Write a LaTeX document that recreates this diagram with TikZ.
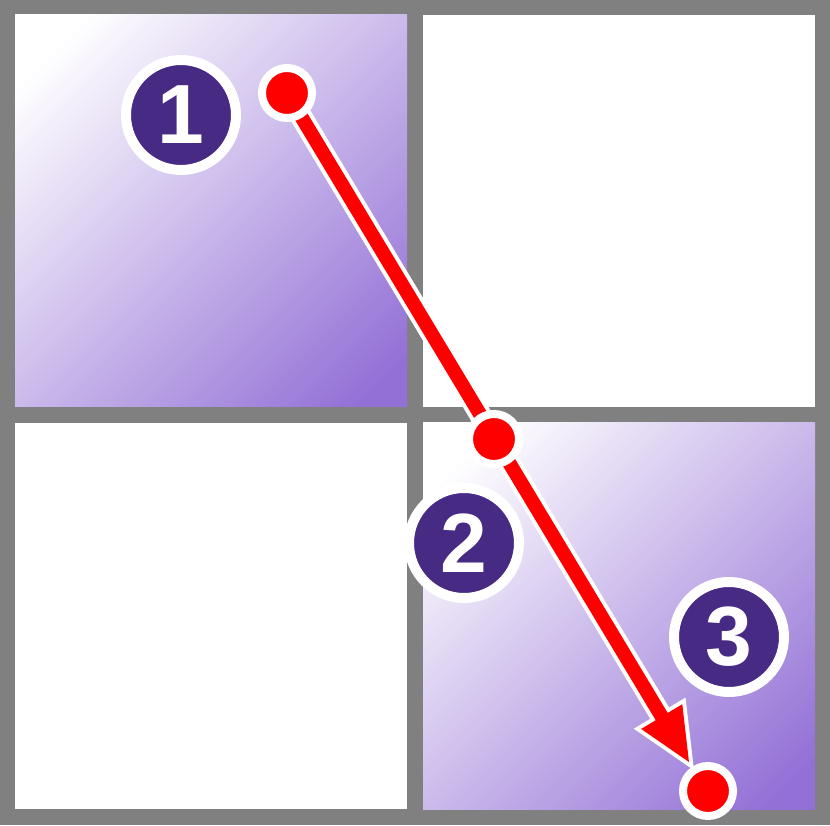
\documentclass[tikz,border=0pt]{standalone}
\usepackage{fontspec}
\setmainfont{Liberation Sans}
\usetikzlibrary{calc,shadings}
\definecolor{bggray}{HTML}{808080}
\definecolor{mpurple}{HTML}{9370D6}
\definecolor{badgepurple}{HTML}{472A83}
\definecolor{dotred}{HTML}{FF0000}
\pgfdeclarehorizontalshading{panelgrad}{100bp}{color(0bp)=(white); color(21bp)=(white); color(81bp)=(mpurple); color(100bp)=(mpurple)}
\begin{document}
\begin{tikzpicture}[x=1pt,y=1pt,
  gradpanel/.style={shading=panelgrad, shading angle=-45},
  dot/.style={circle, fill=dotred, draw=white, line width=8pt, minimum size=50pt, inner sep=0pt},
  badge/.style={circle, fill=badgepurple, draw=white, line width=10pt, minimum size=110pt, inner sep=0pt,
    text=white, font=\fontsize{84}{84}\selectfont\bfseries}
]
\useasboundingbox (0,0) rectangle (830,825);
\fill[bggray] (0,0) rectangle (830,825);
% panels
\shade[gradpanel] (15,418) rectangle (407,810);
\fill[white] (423,418) rectangle (815,810);
\fill[white] (15,16) rectangle (407,402);
\shade[gradpanel] (423,16) rectangle (815,402);
% badges
\node[badge] (b1) at (181,710) {1};
\node[badge] (b2) at (464,282) {2};
\node[badge] (b3) at (729,188) {3};
% arrow
\coordinate (p1) at (287,732);
\coordinate (tip) at (689,63);
\coordinate (hb) at ($(tip)!53pt!(p1)$);
\coordinate (c1) at ($(hb)!24pt!90:(tip)$);
\coordinate (c2) at ($(hb)!24pt!-90:(tip)$);
\draw[white, line width=22pt] (p1) -- (hb);
\filldraw[white, line width=8pt, line join=miter] (tip) -- (c1) -- (c2) -- cycle;
\fill[dotred] (tip) -- (c1) -- (c2) -- cycle;
\draw[dotred, line width=14pt] (p1) -- ($(hb)!2pt!(tip)$);
% dots
\node[dot] (d1) at (p1) {};
\node[dot] (d2) at (494,386) {};
\node[dot] (d3) at (708,34) {};
\end{tikzpicture}
\end{document}
